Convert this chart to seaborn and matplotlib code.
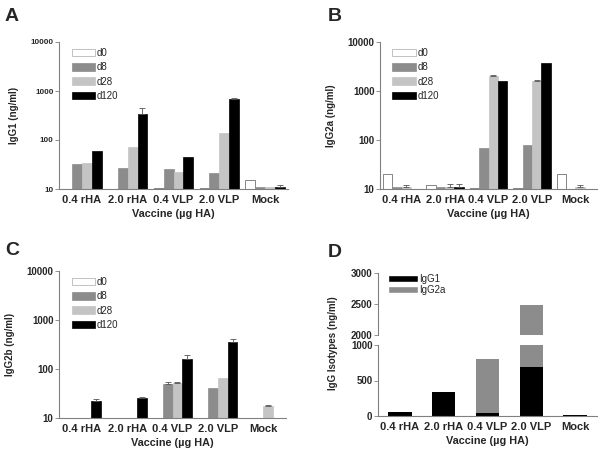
import numpy as np
import pandas as pd
import matplotlib
matplotlib.use("Agg")
import matplotlib.pyplot as plt
from matplotlib.patches import Patch
from matplotlib.ticker import FixedLocator, FixedFormatter, NullLocator
import seaborn as sns

# data
groups = ["0.4 rHA", "2.0 rHA", "0.4 VLP", "2.0 VLP", "Mock"]
days = ["d0", "d8", "d28", "d120"]
nan = np.nan

# A: IgG1 (ng/ml)
igg1_d0 = [nan, nan, 10.5, 10.5, 15.0]
igg1_d8 = [32, 27, 26, 21, 10.8]
igg1_d28 = [34, 71, 22, 138, 10.8]
igg1_d120 = [59, 345, 46, 700, 11.0]
igg1_err_d120 = [0, 95, 0, 25, 1.2]

# B: IgG2a (ng/ml)
igg2a_d0 = [20.5, 12.3, 10.6, 10.6, 20.5]
igg2a_d8 = [10.8, 10.8, 70, 78, nan]
igg2a_d28 = [10.8, 10.9, 2020, 1600, 10.8]
igg2a_d120 = [nan, 10.9, 1580, 3650, nan]
igg2a_err_d28 = [1.5, 1.5, 80, 50, 1.5]
igg2a_err_d120 = [0, 1.5, 0, 0, 0]

# C: IgG2b (ng/ml)
igg2b_d0 = [nan, nan, nan, nan, nan]
igg2b_d8 = [nan, nan, 50, 40, nan]
igg2b_d28 = [nan, nan, 52, 66, 17.5]
igg2b_d120 = [22.2, 25.6, 163, 350, nan]
igg2b_err_d8 = [0, 0, 5, 0, 0]
igg2b_err_d28 = [0, 0, 2, 0, 0.8]
igg2b_err_d120 = [2, 1, 32, 60, 0]

# D: isotypes stacked
d_igg1 = [55, 332, 45, 690, 8]
d_igg2a = [0, 0, 760, 1800, 2]

day_colors = {"d0": "white", "d8": "#8c8c8c", "d28": "#c4c4c4", "d120": "black"}
BAR_W = 0.86

W, H = 605, 457
sns.set_style("white")
plt.rcParams["font.family"] = ["Liberation Sans", "DejaVu Sans"]

fig = plt.figure(figsize=(W / 100, H / 100), dpi=100)


def box(l, t, r, b):
    return [l / W, 1 - b / H, (r - l) / W, (b - t) / H]


def long_df(series, errs):
    rows = []
    for d in days:
        for g, v, e in zip(groups, series[d], errs.get(d, [0] * len(groups))):
            rows.append({"group": g, "day": d, "value": v, "err": e})
    return pd.DataFrame(rows)


def style_axes(ax, ylab, tick_fs, lab_fs):
    for s in ["top", "right"]:
        ax.spines[s].set_visible(False)
    for s in ["left", "bottom"]:
        ax.spines[s].set_color("#808080")
        ax.spines[s].set_linewidth(0.8)
    ax.tick_params(axis="y", length=3, width=0.6, color="#808080", pad=1,
                   labelsize=tick_fs, left=True)
    ax.tick_params(axis="x", length=0, labelsize=8, pad=4)
    for lab in ax.get_xticklabels() + ax.get_yticklabels():
        lab.set_fontweight("bold")
    ax.set_xlabel("Vaccine (\u00b5g HA)", fontsize=7.8, fontweight="bold", labelpad=3)
    ax.set_ylabel(ylab, fontsize=lab_fs, fontweight="bold", labelpad=8)


def log_panel(rect, series, errs, ylab, tick_fs, lab_fs):
    ax = fig.add_axes(rect)
    df = long_df(series, errs)
    sns.barplot(data=df.dropna(subset=["value"]), x="group", y="value", hue="day",
                order=groups, hue_order=days, palette=day_colors, width=BAR_W,
                edgecolor="#555555", linewidth=0.5, errorbar=None, legend=False, ax=ax)
    # only d0 bars keep an outline
    for cont in ax.containers:
        for p in cont.patches:
            if p.get_facecolor()[:3] != (1.0, 1.0, 1.0):
                p.set_edgecolor(p.get_facecolor())
    ax.set_yscale("log")
    ax.set_ylim(10, 10000)
    ax.set_xlim(-0.5, len(groups) - 0.5)
    ax.yaxis.set_major_locator(FixedLocator([10, 100, 1000, 10000]))
    ax.yaxis.set_major_formatter(FixedFormatter(["10", "100", "1000", "10000"]))
    ax.yaxis.set_minor_locator(NullLocator())
    # upper error bars
    step = BAR_W / len(days)
    for j, d in enumerate(days):
        sub = df[df["day"] == d]
        for i, (v, e) in enumerate(zip(sub["value"], sub["err"])):
            if e > 0 and not np.isnan(v):
                ax.errorbar(i + (j - 1.5) * step, v, yerr=[[0], [e]], fmt="none",
                            ecolor="#555555", elinewidth=0.6, capsize=2, capthick=0.6)
    handles = [Patch(facecolor=day_colors[d], edgecolor="#aaaaaa" if d == "d0" else day_colors[d],
                     linewidth=0.5) for d in days]
    ax.legend(handles, days, loc="upper left", bbox_to_anchor=(0.03, 1.0), frameon=False,
              fontsize=7, handlelength=2.4, handleheight=0.8, handletextpad=0.2,
              labelspacing=0.45, borderaxespad=0.2)
    style_axes(ax, ylab, tick_fs, lab_fs)
    return ax


ax_a = log_panel(box(59, 42, 288, 189),
                 {"d0": igg1_d0, "d8": igg1_d8, "d28": igg1_d28, "d120": igg1_d120},
                 {"d120": igg1_err_d120}, "IgG1 (ng/ml)", 5.8, 7)
ax_b = log_panel(box(380, 42, 597, 189),
                 {"d0": igg2a_d0, "d8": igg2a_d8, "d28": igg2a_d28, "d120": igg2a_d120},
                 {"d28": igg2a_err_d28, "d120": igg2a_err_d120}, "IgG2a (ng/ml)", 7, 7)
ax_c = log_panel(box(59, 271, 286, 418),
                 {"d0": igg2b_d0, "d8": igg2b_d8, "d28": igg2b_d28, "d120": igg2b_d120},
                 {"d8": igg2b_err_d8, "d28": igg2b_err_d28, "d120": igg2b_err_d120},
                 "IgG2b (ng/ml)", 7, 7)

# D: stacked bars on a broken y axis
df_d = pd.DataFrame({"group": groups, "IgG1": d_igg1,
                     "total": np.array(d_igg1) + np.array(d_igg2a)})
ax_top = fig.add_axes(box(378, 273, 597, 335))
ax_bot = fig.add_axes(box(378, 345, 597, 416))
for ax in (ax_top, ax_bot):
    sns.barplot(data=df_d, x="group", y="total", order=groups, color="#8c8c8c",
                width=0.53, linewidth=0, errorbar=None, ax=ax)
    sns.barplot(data=df_d, x="group", y="IgG1", order=groups, color="black",
                width=0.53, linewidth=0, errorbar=None, ax=ax)
    ax.set_xlim(-0.5, len(groups) - 0.5)
ax_top.set_ylim(2000, 3000)
ax_bot.set_ylim(0, 1000)
ax_top.set_yticks([2000, 2500, 3000])
ax_bot.set_yticks([0, 500, 1000])
style_axes(ax_bot, "", 7, 7)
style_axes(ax_top, "", 7, 7)
ax_top.spines["bottom"].set_visible(False)
ax_top.set_xticks([])
ax_top.set_xlabel("")
fig.text(333 / W, 1 - 343 / H, "IgG Isotypes (ng/ml)", rotation=90, ha="center",
         va="center", fontsize=7, fontweight="bold")
ax_top.legend([Patch(facecolor="black"), Patch(facecolor="#8c8c8c")], ["IgG1", "IgG2a"],
              loc="upper left", bbox_to_anchor=(0.03, 1.05), frameon=False, fontsize=7,
              handlelength=3.0, handleheight=0.8, handletextpad=0.2, labelspacing=0.1,
              borderaxespad=0.0)

for x, y, s in [(5, 8, "A"), (328, 8, "B"), (5, 242, "C"), (328, 244, "D")]:
    fig.text(x / W, 1 - y / H, s, fontsize=14, fontweight="bold", va="top", ha="left")

fig.savefig("out.png", dpi=100)
